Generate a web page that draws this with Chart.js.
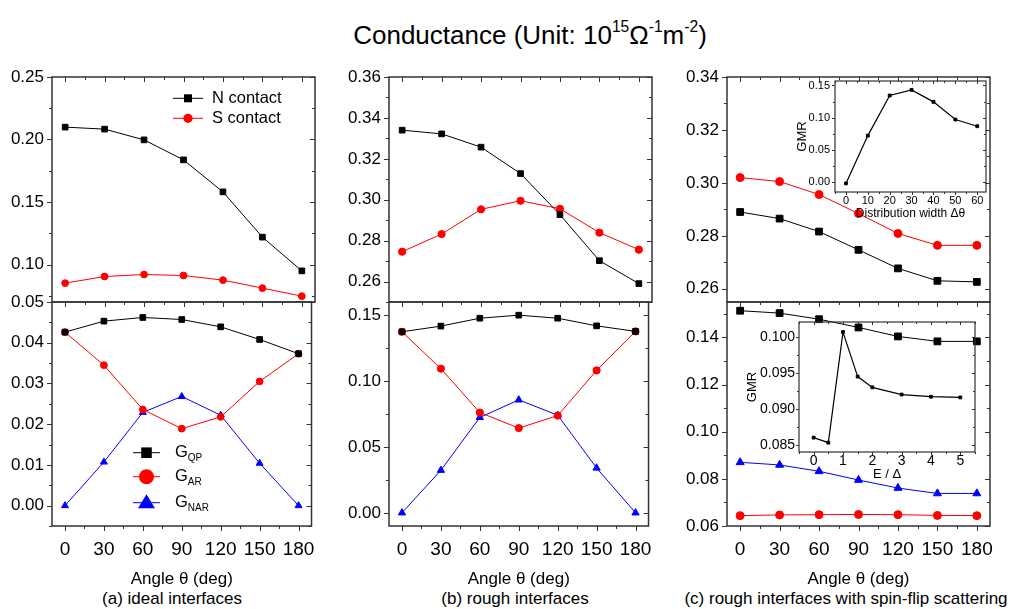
<!DOCTYPE html>
<html>
<head>
<meta charset="utf-8">
<title>Conductance</title>
<script src="https://cdn.jsdelivr.net/npm/chart.js@4.4.1/dist/chart.umd.min.js"></script>
<style>
  html, body { margin: 0; padding: 0; background: #fff; }
  body { position: relative; width: 1015px; height: 609px; overflow: hidden;
         font-family: 'Liberation Sans', Arial, sans-serif; color: #000; }
  canvas { position: absolute; }
  #title { position: absolute; left: 0; width: 1060px; top: 19px; text-align: center;
           font-size: 26px; line-height: 32px; }
  #title sup { font-size: 0.6em; vertical-align: 0.75em; line-height: 0; }
  .caption { position: absolute; top: 589px; font-size: 17px; line-height: 20px;
             white-space: nowrap; transform: translateX(-50%); }
</style>
</head>
<body>
<div id="title">Conductance (Unit: 10<sup>15</sup>Ω<sup>-1</sup>m<sup>-2</sup>)</div>
<div class="caption" style="left:172px">(a) ideal interfaces</div>
<div class="caption" style="left:515px">(b) rough interfaces</div>
<div class="caption" style="left:846px">(c) rough interfaces with spin-flip scattering</div>
<script>
const FAMILY = "'Liberation Sans', Arial, sans-serif";
Chart.defaults.font.family = FAMILY;
Chart.defaults.color = '#000';

// x values and tick labels
const angles = [0, 30, 60, 90, 120, 150, 180];
const angleTicks = [0, 30, 60, 90, 120, 150, 180];
const widths = [0, 10, 20, 30, 40, 50, 60];
const widthTicks = [0, 10, 20, 30, 40, 50, 60];
const energies = [0, 0.5, 1, 1.5, 2, 3, 4, 5];
const energyTicks = [0, 1, 2, 3, 4, 5];

// (a) ideal interfaces
const idealN = [0.2099, 0.2083, 0.1997, 0.1837, 0.1581, 0.1219, 0.0949];
const idealS = [0.0851, 0.0904, 0.0920, 0.0912, 0.0875, 0.0811, 0.0747];
const idealQP = [0.0426, 0.0453, 0.0462, 0.0457, 0.0439, 0.0408, 0.0373];
const idealAR = [0.0426, 0.0345, 0.0236, 0.0189, 0.0218, 0.0305, 0.0373];
const idealNAR = [0.0000, 0.0107, 0.0229, 0.0268, 0.0222, 0.0104, 0.0000];
const idealTopTicks = [0.07, 0.10, 0.15, 0.20, 0.25];
const idealTopLabels = ['0.05', '0.10', '0.15', '0.20', '0.25'];
const idealBotTicks = [0.00, 0.01, 0.02, 0.03, 0.04];

// (b) rough interfaces
const roughN = [0.3340, 0.3322, 0.3257, 0.3128, 0.2927, 0.2702, 0.2590];
const roughS = [0.2746, 0.2832, 0.2953, 0.2995, 0.2956, 0.2839, 0.2756];
const roughQP = [0.1374, 0.1417, 0.1477, 0.1500, 0.1477, 0.1419, 0.1377];
const roughAR = [0.1374, 0.1094, 0.0761, 0.0643, 0.0738, 0.1081, 0.1377];
const roughNAR = [0.0000, 0.0323, 0.0724, 0.0857, 0.0741, 0.0340, 0.0000];
const roughTopTicks = [0.26, 0.28, 0.30, 0.32, 0.34, 0.36];
const roughBotTicks = [0.00, 0.05, 0.10, 0.15];

// (c) rough interfaces with spin-flip scattering
const flipN = [0.2890, 0.2865, 0.2816, 0.2747, 0.2677, 0.2630, 0.2626];
const flipS = [0.3020, 0.3005, 0.2956, 0.2884, 0.2809, 0.2764, 0.2764];
const flipQP = [0.1513, 0.1503, 0.1477, 0.1442, 0.1404, 0.1383, 0.1383];
const flipAR = [0.0644, 0.0647, 0.0648, 0.0649, 0.0648, 0.0645, 0.0644];
const flipNAR = [0.0870, 0.0859, 0.0832, 0.0795, 0.0761, 0.0738, 0.0738];
const flipTopTicks = [0.26, 0.28, 0.30, 0.32, 0.34];
const flipBotTicks = [0.06, 0.08, 0.10, 0.12, 0.14];

// insets
const gmrWidth = [-0.0026, 0.0719, 0.1344, 0.1432, 0.1245, 0.0969, 0.0865];
const gmrWidthTicks = [0.00, 0.05, 0.10, 0.15];
const gmrEnergy = [0.0860, 0.0853, 0.1007, 0.0945, 0.0930, 0.0920, 0.0917, 0.0916];
const gmrEnergyTicks = [0.085, 0.090, 0.095, 0.100];

const fmt = (ticks, d) => ticks.map(v => v.toFixed(d));
const pts = (xs, ys) => xs.map((x, i) => ({ x, y: ys[i] }));

function series(label, xs, ys, color, style, r, lw) {
  return {
    label, data: pts(xs, ys), showLine: true,
    borderColor: color, backgroundColor: color, borderWidth: lw || 1,
    pointStyle: style, pointRadius: r, pointBorderWidth: 1,
    pointBorderColor: color, pointBackgroundColor: color
  };
}

function marker(ctx, style, x, y, s) {
  ctx.beginPath();
  if (style === 'rect') ctx.rect(x - s, y - s, 2 * s, 2 * s);
  else if (style === 'circle') ctx.arc(x, y, s, 0, Math.PI * 2);
  else { ctx.moveTo(x, y - s); ctx.lineTo(x + s, y + 0.65 * s); ctx.lineTo(x - s, y + 0.65 * s); ctx.closePath(); }
  ctx.fill();
}

// box with ticks on all sides (outward left/bottom, inward right/top)
const framePlugin = {
  id: 'frame',
  afterDatasetsDraw(chart, args, o) {
    if (!o.major) return;
    const { ctx, chartArea: a, scales: { x, y } } = chart;
    const line = (x1, y1, x2, y2) => { ctx.beginPath(); ctx.moveTo(x1, y1); ctx.lineTo(x2, y2); ctx.stroke(); };
    const minors = (s, step) => {
      const out = [];
      for (let n = Math.ceil((s.min - 1e-9) / step); n * step <= s.max + 1e-9; n++) out.push(n * step);
      return out;
    };
    ctx.save();
    ctx.strokeStyle = '#333';
    ctx.lineWidth = 1;
    const xt = [...minors(x, o.xMinor).map(v => [v, o.minor]), ...x.ticks.map(t => [t.value, o.major])];
    xt.forEach(([v, len]) => {
      const px = Math.round(x.getPixelForValue(v)) + 0.5;
      line(px, a.bottom, px, a.bottom + len);
      if (o.top) line(px, a.top, px, a.top + len);
    });
    const yt = [...minors(y, o.yMinor).map(v => [v, o.minor]), ...y.ticks.map(t => [t.value, o.major])];
    yt.forEach(([v, len]) => {
      const py = Math.round(y.getPixelForValue(v)) + 0.5;
      line(a.left - len, py, a.left, py);
      line(a.right - len, py, a.right, py);
    });
    ctx.lineWidth = o.width;
    ctx.strokeRect(a.left, a.top, a.right - a.left, a.bottom - a.top);
    ctx.restore();
  }
};

// hand-placed legend inside the plot, built from the datasets
const keyPlugin = {
  id: 'key',
  afterDatasetsDraw(chart, args, o) {
    if (!o.rows) return;
    const { ctx, chartArea: a } = chart;
    ctx.save();
    o.rows.forEach((ry, i) => {
      const ds = chart.data.datasets[i];
      const y = a.top + ry;
      ctx.strokeStyle = ds.borderColor;
      ctx.fillStyle = ds.borderColor;
      ctx.lineWidth = 1;
      ctx.beginPath(); ctx.moveTo(a.left + o.x0, y); ctx.lineTo(a.left + o.x1, y); ctx.stroke();
      marker(ctx, ds.pointStyle, a.left + (o.x0 + o.x1) / 2, y, o.sizes[ds.pointStyle]);
      ctx.fillStyle = '#000';
      ctx.textAlign = 'left';
      ctx.textBaseline = 'middle';
      ctx.font = o.font + 'px ' + FAMILY;
      const [main, sub] = ds.label.split('_');
      const tx = a.left + o.tx;
      ctx.fillText(main, tx, y);
      if (sub) {
        const w = ctx.measureText(main).width;
        ctx.font = o.subFont + 'px ' + FAMILY;
        ctx.fillText(sub, tx + w, y + o.subDy);
      }
    });
    ctx.restore();
  }
};
Chart.register(framePlugin, keyPlugin);

function yAxis(min, max, ticks, labels, size, pad, width, title) {
  return {
    type: 'linear', position: 'left', min, max,
    afterBuildTicks: s => { s.ticks = ticks.map(value => ({ value })); },
    afterFit: s => { s.width = width; },
    grid: { display: false, drawTicks: false }, border: { display: false },
    ticks: { autoSkip: false, padding: pad, font: { size }, callback: (v, i) => labels[i] },
    title: title || { display: false }
  };
}

function xAxis(min, max, ticks, labels, size, pad, height, title) {
  return {
    type: 'linear', position: 'bottom', min, max,
    afterBuildTicks: s => { s.ticks = ticks.map(value => ({ value })); },
    afterFit: s => { s.height = height; },
    grid: { display: false, drawTicks: false }, border: { display: false },
    ticks: { display: size > 0, autoSkip: false, maxRotation: 0, padding: pad, font: { size: size || 12 },
             callback: (v, i) => labels[i] },
    title: title || { display: false }
  };
}

function makeChart(box, m, datasets, scales, plugins) {
  const c = document.createElement('canvas');
  const left = box.l - m.yw - m.pl, top = box.t - m.pt;
  const w = box.r + m.pr - left, h = box.b + m.xh + m.pb - top;
  c.width = w; c.height = h;
  c.style.left = left + 'px'; c.style.top = top + 'px';
  c.style.width = w + 'px'; c.style.height = h + 'px';
  document.body.appendChild(c);
  new Chart(c, {
    type: 'scatter',
    data: { datasets },
    options: {
      responsive: false, animation: false,
      layout: { padding: { left: m.pl, right: m.pr, top: m.pt, bottom: m.pb } },
      plugins: Object.assign({ legend: { display: false }, tooltip: { enabled: false } }, plugins),
      scales
    }
  });
}

const BLACK = '#000000', RED = '#ff0000', BLUE = '#0000ff';
const angleLabels = angleTicks.map(String);
const hiddenX = () => xAxis(-10, 190, angleTicks, angleLabels, 0, 0, 0);
const angleX = () => xAxis(-10, 190, angleTicks, angleLabels, 19, 12, 83,
  { display: true, text: 'Angle θ (deg)', font: { size: 17 }, padding: { top: 0, bottom: 19 } });
const mainFrame = (yMinor, top) => ({ major: 5, minor: 3, xMinor: 15, yMinor, top, width: 1.5 });

// padding must exceed half a label height plus the tick padding, or Chart.js shifts the area
const topM = (yw, pl, pr) => ({ yw, pl, pr, pt: 24, pb: 24, xh: 0 });
const botM = (yw, pl, pr) => ({ yw, pl, pr, pt: 24, pb: 0, xh: 83 });

// (a) ideal interfaces
makeChart({ l: 52, r: 315, t: 77, b: 302 }, topM(50, 2, 12), [
  series('N contact', angles, idealN, BLACK, 'rect', 4),
  series('S contact', angles, idealS, RED, 'circle', 3.4)
], {
  x: hiddenX(),
  y: yAxis(0.07, 0.25, idealTopTicks, idealTopLabels, 17, 8, 50)
}, {
  frame: mainFrame(0.025, true),
  key: { x0: 121, x1: 151, tx: 160, rows: [21.3, 41.3], font: 16.5, sizes: { rect: 4, circle: 4.6 } }
});
makeChart({ l: 52, r: 315, t: 302, b: 526 }, botM(50, 2, 12), [
  series('G_QP', angles, idealQP, BLACK, 'rect', 4),
  series('G_AR', angles, idealAR, RED, 'circle', 3.4),
  series('G_NAR', angles, idealNAR, BLUE, 'triangle', 4)
], {
  x: angleX(),
  y: yAxis(-0.005, 0.05, idealBotTicks, fmt(idealBotTicks, 2), 17, 8, 50)
}, {
  frame: mainFrame(0.005, false),
  key: { x0: 81, x1: 108, tx: 123, rows: [150.7, 174.7, 200.7], font: 16.5, subFont: 10, subDy: 6,
         sizes: { rect: 5.3, circle: 7.5, triangle: 8.5 } }
});

// (b) rough interfaces
makeChart({ l: 389, r: 652, t: 77, b: 302 }, topM(60, 0, 12), [
  series('N contact', angles, roughN, BLACK, 'rect', 4),
  series('S contact', angles, roughS, RED, 'circle', 3.6)
], {
  x: hiddenX(),
  y: yAxis(0.25, 0.36, roughTopTicks, fmt(roughTopTicks, 2), 17, 8, 60)
}, { frame: mainFrame(0.01, true) });
makeChart({ l: 389, r: 652, t: 302, b: 526 }, botM(60, 0, 12), [
  series('G_QP', angles, roughQP, BLACK, 'rect', 4),
  series('G_AR', angles, roughAR, RED, 'circle', 3.6),
  series('G_NAR', angles, roughNAR, BLUE, 'triangle', 4.2)
], {
  x: angleX(),
  y: yAxis(-0.01, 0.16, roughBotTicks, fmt(roughBotTicks, 2), 17, 8, 60)
}, { frame: mainFrame(0.025, false) });

// (c) rough interfaces with spin-flip scattering
makeChart({ l: 727, r: 990, t: 77, b: 302 }, topM(60, 0, 20), [
  series('N contact', angles, flipN, BLACK, 'rect', 4.8),
  series('S contact', angles, flipS, RED, 'circle', 4)
], {
  x: hiddenX(),
  y: yAxis(0.255, 0.34, flipTopTicks, fmt(flipTopTicks, 2), 17, 8, 60)
}, { frame: mainFrame(0.01, true) });
makeChart({ l: 727, r: 990, t: 302, b: 526 }, botM(60, 0, 20), [
  series('G_QP', angles, flipQP, BLACK, 'rect', 4.8),
  series('G_AR', angles, flipAR, RED, 'circle', 4),
  series('G_NAR', angles, flipNAR, BLUE, 'triangle', 4.6)
], {
  x: angleX(),
  y: yAxis(0.06, 0.155, flipBotTicks, fmt(flipBotTicks, 2), 17, 8, 60)
}, { frame: mainFrame(0.01, false) });

// inset: GMR vs distribution width
makeChart({ l: 835, r: 986, t: 81, b: 192 }, { yw: 40, pl: 2, pr: 8, pt: 16, pb: 2, xh: 29 }, [
  series('GMR', widths, gmrWidth, BLACK, 'rect', 2, 1.2)
], {
  x: xAxis(-5, 64, widthTicks, widthTicks.map(String), 11, 2, 29,
    { display: true, text: 'Distribution width Δθ', font: { size: 12 }, padding: { top: 0, bottom: 0 } }),
  y: yAxis(-0.016, 0.157, gmrWidthTicks, fmt(gmrWidthTicks, 2), 11, 5, 40,
    { display: true, text: 'GMR', font: { size: 13 }, padding: { top: 0, bottom: 0 } })
}, { frame: { major: 3, minor: 2, xMinor: 5, yMinor: 0.025, top: true, width: 1.2 } });

// inset: GMR vs E / Δ
makeChart({ l: 799, r: 975, t: 322, b: 452 }, { yw: 54, pl: 2, pr: 8, pt: 16, pb: 2, xh: 30 }, [
  series('GMR', energies, gmrEnergy, BLACK, 'rect', 2, 1.2)
], {
  x: xAxis(-0.5, 5.5, energyTicks, energyTicks.map(String), 14, 1, 30,
    { display: true, text: 'E / Δ', font: { size: 13 }, padding: { top: 0, bottom: 0 } }),
  y: yAxis(0.084, 0.1021, gmrEnergyTicks, fmt(gmrEnergyTicks, 3), 14, 4, 54,
    { display: true, text: 'GMR', font: { size: 13 }, padding: { top: 0, bottom: 0 } })
}, { frame: { major: 3, minor: 2, xMinor: 0.5, yMinor: 0.0025, top: true, width: 1.2 } });
</script>
</body>
</html>
